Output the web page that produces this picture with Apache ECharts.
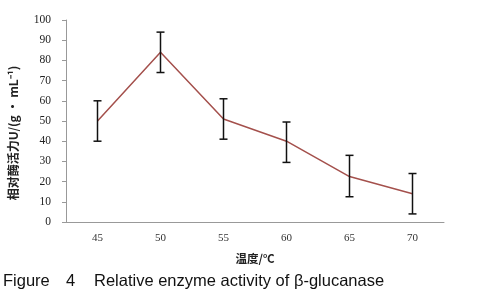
<!DOCTYPE html>
<html>
<head>
<meta charset="utf-8">
<script src="https://cdn.jsdelivr.net/npm/echarts@6/dist/echarts.min.js"></script>
<style>
html,body{margin:0;padding:0;background:#fff;}
#main{width:485px;height:300px;}
</style>
</head>
<body>
<div id="main"></div>
<script>
var temps=['45','50','55','60','65','70'];
var activity=[50,84,51,40,22.5,14];
var errLow=[40,74,41,29.5,12.5,4];
var errHigh=[60,94,61,49.5,33,24];

var mychart=echarts.init(document.getElementById('main'));
var capFont='16.5px "Liberation Sans"';
var option={
	backgroundColor:'#fff',
	animation:false,
	grid:{left:66,right:41,top:20,bottom:78},
	xAxis:{
		type:'category',
		data:temps,
		boundaryGap:true,
		name:'温度/℃',
		nameLocation:'middle',
		nameGap:31,
		nameTextStyle:{fontFamily:'Noto Sans CJK SC',fontWeight:'bold',fontSize:11.5,color:'#222'},
		axisLine:{lineStyle:{color:'#999',width:1}},
		axisTick:{inside:true,length:4,lineStyle:{color:'#999'}},
		axisLabel:{fontFamily:'Liberation Serif',fontSize:11,color:'#333',margin:11}
	},
	yAxis:{
		type:'value',
		min:0,max:100,interval:10,
		splitLine:{show:false},
		axisLine:{show:true,lineStyle:{color:'#999',width:1}},
		axisTick:{show:true,length:4,lineStyle:{color:'#999'}},
		axisLabel:{fontFamily:'Liberation Serif',fontSize:11.5,color:'#222',margin:15}
	},
	graphic:[{
		type:'text',
		x:13,y:133,rotation:Math.PI/2,
		style:{text:'相对酶活力U/(g • mL⁻¹)',font:'bold 12px "Noto Sans CJK SC"',fill:'#222',align:'center',verticalAlign:'middle'}
	},{
		type:'text',
		left:3,top:273,
		style:{text:'Figure',font:capFont,fill:'#111'}
	},{
		type:'text',
		left:66,top:273,
		style:{text:'4',font:capFont,fill:'#111'}
	},{
		type:'text',
		left:94,top:273,
		style:{text:'Relative enzyme activity of β-glucanase',font:capFont,fill:'#111'}
	}],
	series:[{
		type:'line',
		data:activity,
		symbol:'none',
		lineStyle:{color:'#a4504c',width:1.5},
		z:2
	},{
		type:'custom',
		data:temps.map(function(t,i){return [i,errLow[i],errHigh[i]];}),
		renderItem:function(params,api){
			var lo=api.coord([api.value(0),api.value(1)]);
			var hi=api.coord([api.value(0),api.value(2)]);
			var w=4;
			var st={stroke:'#111',lineWidth:1.5};
			return {type:'group',children:[
				{type:'line',shape:{x1:hi[0],y1:hi[1],x2:lo[0],y2:lo[1]},style:st},
				{type:'line',shape:{x1:hi[0]-w,y1:hi[1],x2:hi[0]+w,y2:hi[1]},style:st},
				{type:'line',shape:{x1:lo[0]-w,y1:lo[1],x2:lo[0]+w,y2:lo[1]},style:st}
			]};
		},
		z:3
	}]
};
mychart.setOption(option);
</script>
</body>
</html>
